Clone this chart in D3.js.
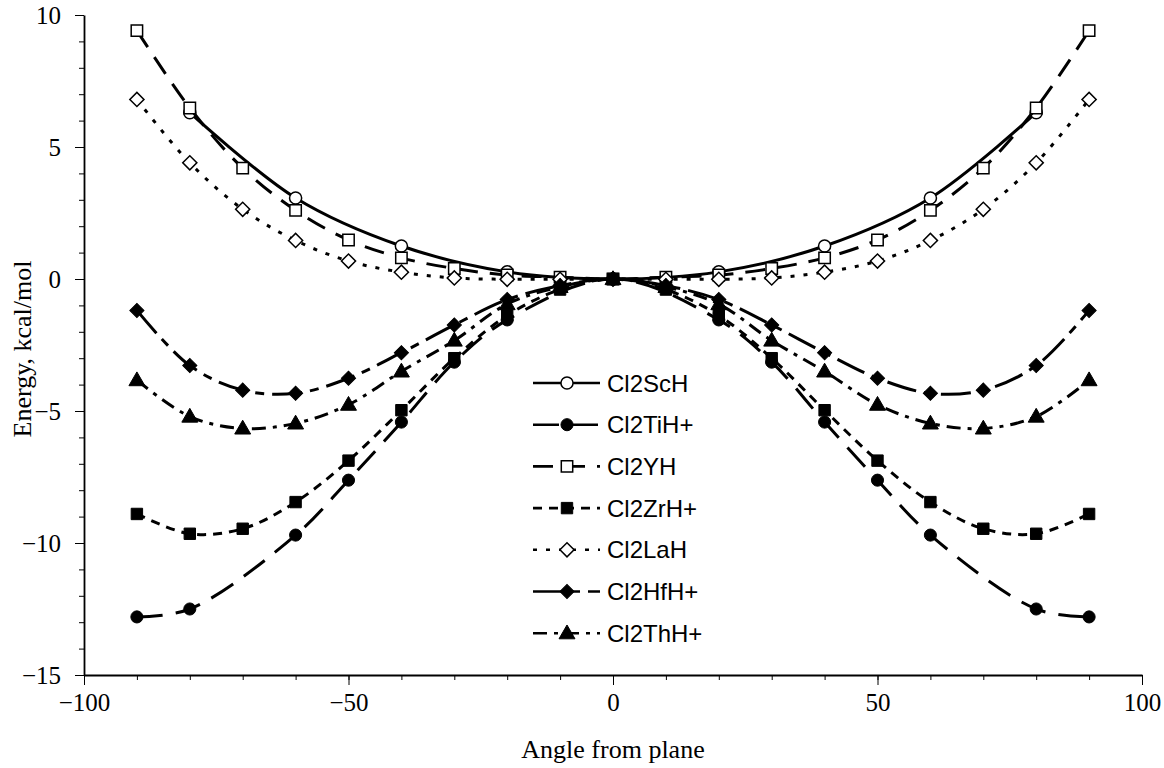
<!DOCTYPE html>
<html>
<head>
<meta charset="utf-8">
<style>
  body { margin: 0; background: #fff; }
</style>
</head>
<body>
<div id="chart"></div>

<script src="https://cdnjs.cloudflare.com/ajax/libs/d3/7.8.5/d3.min.js"></script>
<script>
  // Chart size
  const width = 1164;
  const height = 768;

  // Angles (x values); null = no point at that angle
  const angles = [-90, -80, -70, -60, -50, -40, -30, -20, -10, 0, 10, 20, 30, 40, 50, 60, 70, 80, 90];

  // Energies, kcal/mol
  const cl2ScH  = [null, 6.3, null, 3.07, null, 1.25, null, 0.27, null, 0, null, 0.27, null, 1.25, null, 3.07, null, 6.3, null];
  const cl2TiH  = [-12.8, -12.5, null, -9.7, -7.62, -5.42, -3.15, -1.55, null, 0, null, -1.55, -3.15, -5.42, -7.62, -9.7, null, -12.5, -12.8];
  const cl2YH   = [9.41, 6.48, 4.2, 2.6, 1.48, 0.8, 0.4, 0.15, 0.07, 0, 0.07, 0.15, 0.4, 0.8, 1.48, 2.6, 4.2, 6.48, 9.41];
  const cl2ZrH  = [-8.9, -9.65, -9.46, -8.45, -6.88, -4.97, -3.0, -1.38, -0.4, 0, -0.4, -1.38, -3.0, -4.97, -6.88, -8.45, -9.46, -9.65, -8.9];
  const cl2LaH  = [6.8, 4.4, 2.64, 1.46, 0.68, 0.26, 0.04, -0.01, -0.01, 0, -0.01, -0.01, 0.04, 0.26, 0.68, 1.46, 2.64, 4.4, 6.8];
  const cl2HfH  = [-1.19, -3.28, -4.21, -4.33, -3.76, -2.79, -1.74, -0.78, -0.25, 0, -0.25, -0.78, -1.74, -2.79, -3.76, -4.33, -4.21, -3.28, -1.19];
  const cl2ThH  = [-3.83, -5.21, -5.66, -5.47, -4.76, -3.5, -2.33, -0.95, -0.3, 0, -0.3, -0.95, -2.33, -3.5, -4.76, -5.47, -5.66, -5.21, -3.83];

  const seriesNames = ["Cl2ScH", "Cl2TiH+", "Cl2YH", "Cl2ZrH+", "Cl2LaH", "Cl2HfH+", "Cl2ThH+"];
  const seriesValues = [cl2ScH, cl2TiH, cl2YH, cl2ZrH, cl2LaH, cl2HfH, cl2ThH];

  // Axis ticks
  const xMajorTicks = [-100, -50, 0, 50, 100];
  const yMajorTicks = [-15, -10, -5, 0, 5, 10];

  // Look of each series: marker, open or filled, dash pattern
  const styles = [
    {shape: "circle",   open: true,  dash: null},
    {shape: "circle",   open: false, dash: "26,13"},
    {shape: "square",   open: true,  dash: "20,12"},
    {shape: "square",   open: false, dash: "9,7"},
    {shape: "diamond",  open: true,  dash: "4,9"},
    {shape: "diamond",  open: false, dash: "30,8,9,8"},
    {shape: "triangle", open: false, dash: "14,7,4,7"}
  ];

  const plotLeft = 84, plotRight = 1142, plotTop = 15, plotBottom = 675;

  const x = d3.scaleLinear().domain([-100, 100]).range([plotLeft, plotRight]);
  const y = d3.scaleLinear().domain([-15, 10]).range([plotBottom, plotTop]);

  const svg = d3.create("svg")
    .attr("width", width)
    .attr("height", height)
    .attr("viewBox", [0, 0, width, height]);

  // X axis: minor ticks every 10, major every 50 with labels
  svg.append("g")
    .attr("transform", `translate(0,${plotBottom})`)
    .call(d3.axisBottom(x).tickValues(d3.range(-100, 101, 10)).tickSize(5).tickFormat(""))
    .call(g => g.select(".domain").remove());

  svg.append("g")
    .attr("transform", `translate(0,${plotBottom})`)
    .call(d3.axisBottom(x).tickValues(xMajorTicks).tickSize(10).tickSizeOuter(0).tickPadding(8))
    .call(g => g.select(".domain").attr("stroke-width", 1.8))
    .call(g => g.selectAll("text")
      .attr("font-family", "'Liberation Serif', serif")
      .attr("font-size", 25)
      .attr("fill", "#000"));

  // Y axis: minor ticks every 1, major every 5 with labels
  svg.append("g")
    .attr("transform", `translate(${plotLeft},0)`)
    .call(d3.axisLeft(y).tickValues(d3.range(-15, 11, 1)).tickSize(5).tickFormat(""))
    .call(g => g.select(".domain").remove());

  svg.append("g")
    .attr("transform", `translate(${plotLeft},0)`)
    .call(d3.axisLeft(y).tickValues(yMajorTicks).tickSize(9).tickSizeOuter(0).tickPadding(14))
    .call(g => g.select(".domain").attr("stroke-width", 1.8))
    .call(g => g.selectAll("text")
      .attr("font-family", "'Liberation Serif', serif")
      .attr("font-size", 25)
      .attr("fill", "#000"));

  // Axis titles
  svg.append("text")
    .attr("x", x(0))
    .attr("y", 758)
    .attr("text-anchor", "middle")
    .attr("font-family", "'Liberation Serif', serif")
    .attr("font-size", 26)
    .text("Angle from plane");

  svg.append("text")
    .attr("transform", `translate(31,349) rotate(-90)`)
    .attr("text-anchor", "middle")
    .attr("font-family", "'Liberation Serif', serif")
    .attr("font-size", 26)
    .text("Energy, kcal/mol");

  // Marker shapes
  const symbols = {
    circle: d3.symbol().type(d3.symbolCircle).size(115)(),
    square: d3.symbol().type(d3.symbolSquare).size(130)(),
    diamond: d3.symbol().type(d3.symbolSquare).size(100)(),
    triangle: d3.symbol().type(d3.symbolTriangle).size(110)()
  };

  function drawMarker(g, style, cx, cy) {
    g.append("path")
      .attr("d", symbols[style.shape])
      .attr("transform", `translate(${cx},${cy})` + (style.shape === "diamond" ? " rotate(45)" : "") + (style.shape === "triangle" ? " translate(0,1)" : ""))
      .attr("fill", style.open ? "#fff" : "#000")
      .attr("stroke", "#000")
      .attr("stroke-width", style.open ? 1.5 : 1);
  }

  const line = d3.line()
    .x(d => x(d.x))
    .y(d => y(d.y))
    .curve(d3.curveCatmullRom.alpha(0.5));

  // Series lines and markers
  seriesValues.forEach((vals, i) => {
    const style = styles[i];
    const pts = angles.map((a, j) => ({x: a, y: vals[j]})).filter(d => d.y !== null);
    const g = svg.append("g");
    g.append("path")
      .datum(pts)
      .attr("d", line)
      .attr("fill", "none")
      .attr("stroke", "#000")
      .attr("stroke-width", 3)
      .attr("stroke-dasharray", style.dash);
    pts.forEach(d => drawMarker(g, style, x(d.x), y(d.y)));
  });

  // Legend
  const legend = svg.append("g");
  seriesNames.forEach((name, i) => {
    const style = styles[i];
    const ly = 383 + i * 41.7;
    legend.append("line")
      .attr("x1", 533).attr("x2", 600)
      .attr("y1", ly).attr("y2", ly)
      .attr("stroke", "#000")
      .attr("stroke-width", 2.6)
      .attr("stroke-dasharray", style.dash);
    drawMarker(legend, style, 567, ly);
    legend.append("text")
      .attr("x", 607)
      .attr("y", ly)
      .attr("dy", "0.36em")
      .attr("font-family", "'Liberation Sans', Arial, sans-serif")
      .attr("font-size", 24)
      .text(name);
  });

  d3.select("#chart").node().appendChild(svg.node());
</script>
</body>
</html>
